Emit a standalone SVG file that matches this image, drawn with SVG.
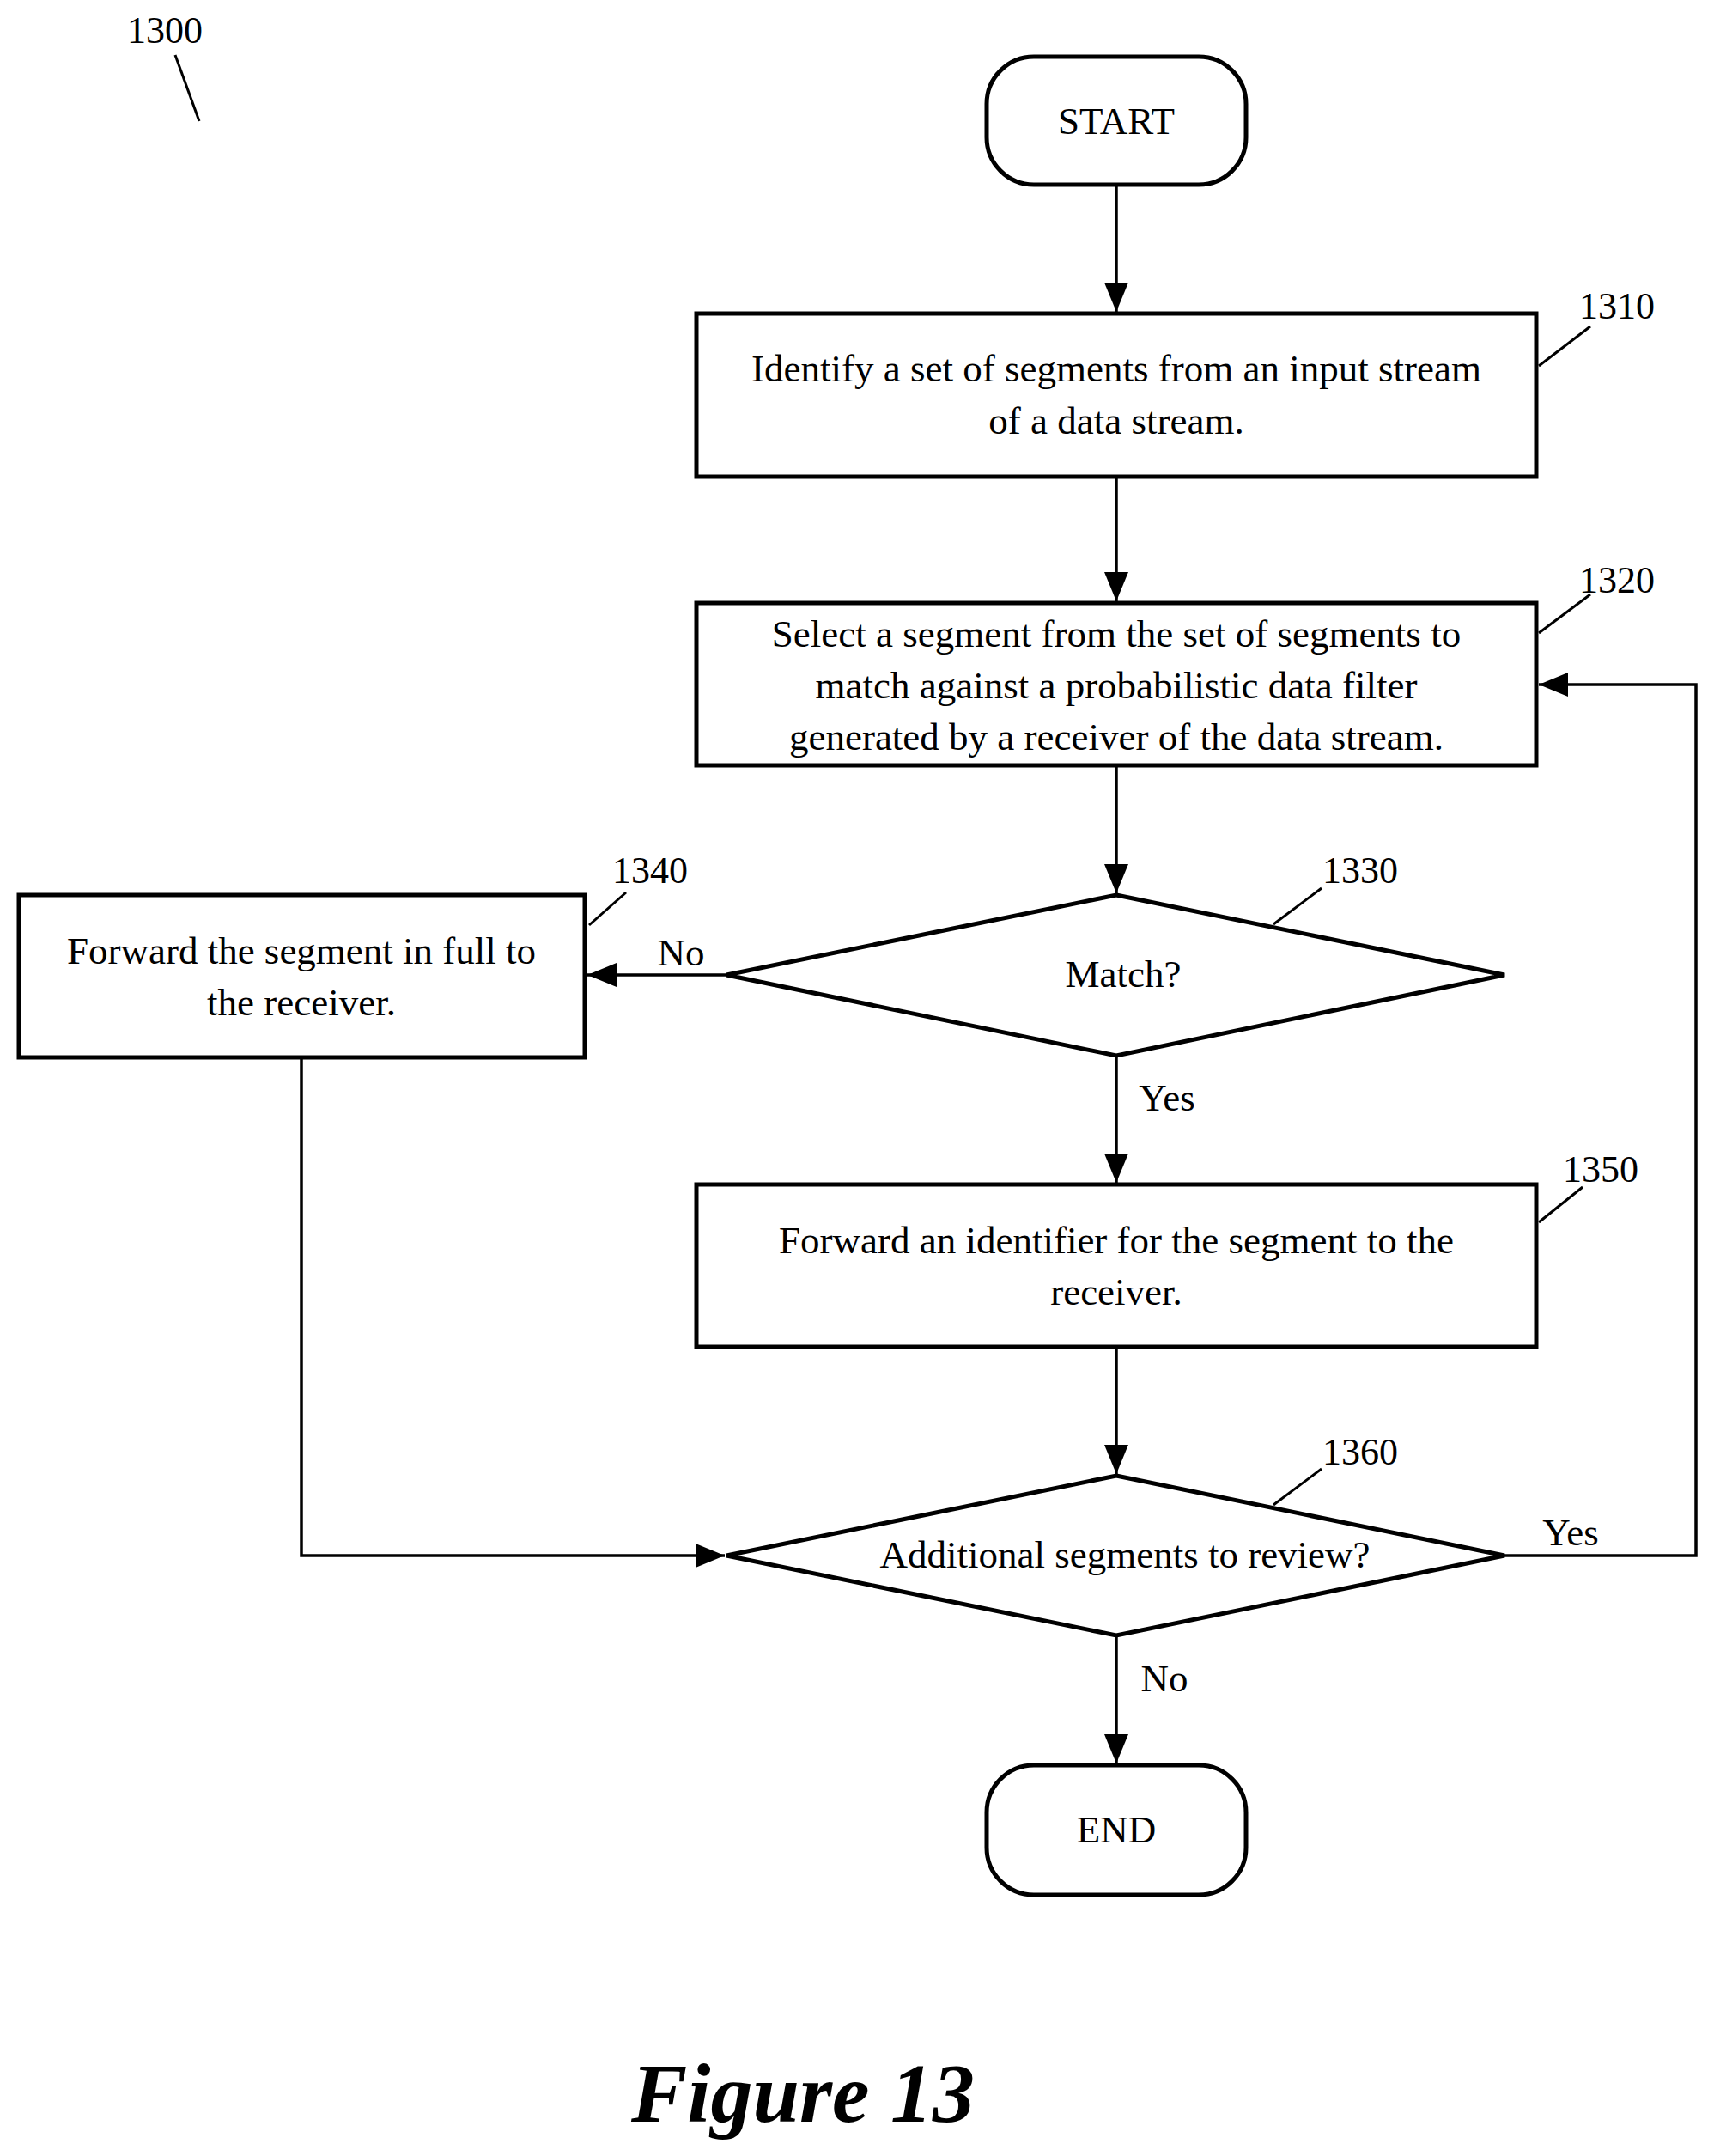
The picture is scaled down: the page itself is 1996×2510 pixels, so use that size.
<svg xmlns="http://www.w3.org/2000/svg" width="1996" height="2510" viewBox="0 0 1996 2510">
<style>
.s{fill:#fff;stroke:#000;stroke-width:5}
.c{fill:none;stroke:#000;stroke-width:3.5}
.l{fill:none;stroke:#000;stroke-width:3}
text{font-family:"Liberation Serif",serif;font-size:45px;fill:#000;text-anchor:middle}
.n{font-size:44px}
</style>
<defs><marker id="a" markerWidth="12" markerHeight="10" refX="12" refY="5" orient="auto" markerUnits="userSpaceOnUse" viewBox="0 0 12 10"><path d="M0,0L12,5L0,10z" transform="scale(1)"/></marker>
<marker id="b" markerWidth="34" markerHeight="28" refX="34" refY="14" orient="auto" markerUnits="userSpaceOnUse"><path d="M0,0L34,14L0,28z"/></marker></defs>
<rect width="1996" height="2510" fill="#fff"/>
<g id="connectors">
<path class="c" d="M1300,215V363" marker-end="url(#b)"/>
<path class="c" d="M1300,555V700" marker-end="url(#b)"/>
<path class="c" d="M1300,891V1040" marker-end="url(#b)"/>
<path class="c" d="M846,1135H684" marker-end="url(#b)"/>
<path class="c" d="M1300,1229V1377" marker-end="url(#b)"/>
<path class="c" d="M1300,1568V1716" marker-end="url(#b)"/>
<path class="c" d="M351,1231V1811H844" marker-end="url(#b)"/>
<path class="c" d="M1752,1811H1975V797H1792" marker-end="url(#b)"/>
<path class="c" d="M1300,1904V2053" marker-end="url(#b)"/>
<text x="793" y="1124">No</text>
<text x="1359" y="1293">Yes</text>
<text x="1829" y="1799">Yes</text>
<text x="1356" y="1969">No</text>
</g>
<g id="n1300"><text class="n" x="192" y="50">1300</text><path class="l" d="M204,64L232,141"/></g>
<g id="start"><rect class="s" x="1149" y="66" width="302" height="149" rx="55"/><text x="1300" y="156">START</text></g>
<g id="n1310"><rect class="s" x="811" y="365" width="978" height="190"/><text x="1300" y="444">Identify a set of segments from an input stream</text><text x="1300" y="505">of a data stream.</text><text class="n" x="1883" y="371">1310</text><path class="l" d="M1792,426L1852,380"/></g>
<g id="n1320"><rect class="s" x="811" y="702" width="978" height="189"/><text x="1300" y="753">Select a segment from the set of segments to</text><text x="1300" y="813">match against a probabilistic data filter</text><text x="1300" y="873">generated by a receiver of the data stream.</text><text class="n" x="1883" y="690">1320</text><path class="l" d="M1792,737L1852,692"/></g>
<g id="n1330"><polygon class="s" points="1300,1042 1752,1135 1300,1229 846,1135"/><text x="1308" y="1149">Match?</text><text class="n" x="1584" y="1028">1330</text><path class="l" d="M1483,1076L1539,1034"/></g>
<g id="n1340"><rect class="s" x="22" y="1042" width="659" height="189"/><text x="351" y="1122">Forward the segment in full to</text><text x="351" y="1182">the receiver.</text><text class="n" x="757" y="1028">1340</text><path class="l" d="M686,1077L729,1039"/></g>
<g id="n1350"><rect class="s" x="811" y="1379" width="978" height="189"/><text x="1300" y="1459">Forward an identifier for the segment to the</text><text x="1300" y="1519">receiver.</text><text class="n" x="1864" y="1376">1350</text><path class="l" d="M1792,1423L1843,1382"/></g>
<g id="n1360"><polygon class="s" points="1300,1718 1752,1811 1300,1904 846,1811"/><text x="1310" y="1825">Additional segments to review?</text><text class="n" x="1584" y="1705">1360</text><path class="l" d="M1483,1752L1539,1710"/></g>
<g id="end"><rect class="s" x="1149" y="2055" width="302" height="151" rx="55"/><text x="1300" y="2145">END</text></g>
<text x="935" y="2470" style="font-size:98px;font-weight:bold;font-style:italic">Figure 13</text>
</svg>
